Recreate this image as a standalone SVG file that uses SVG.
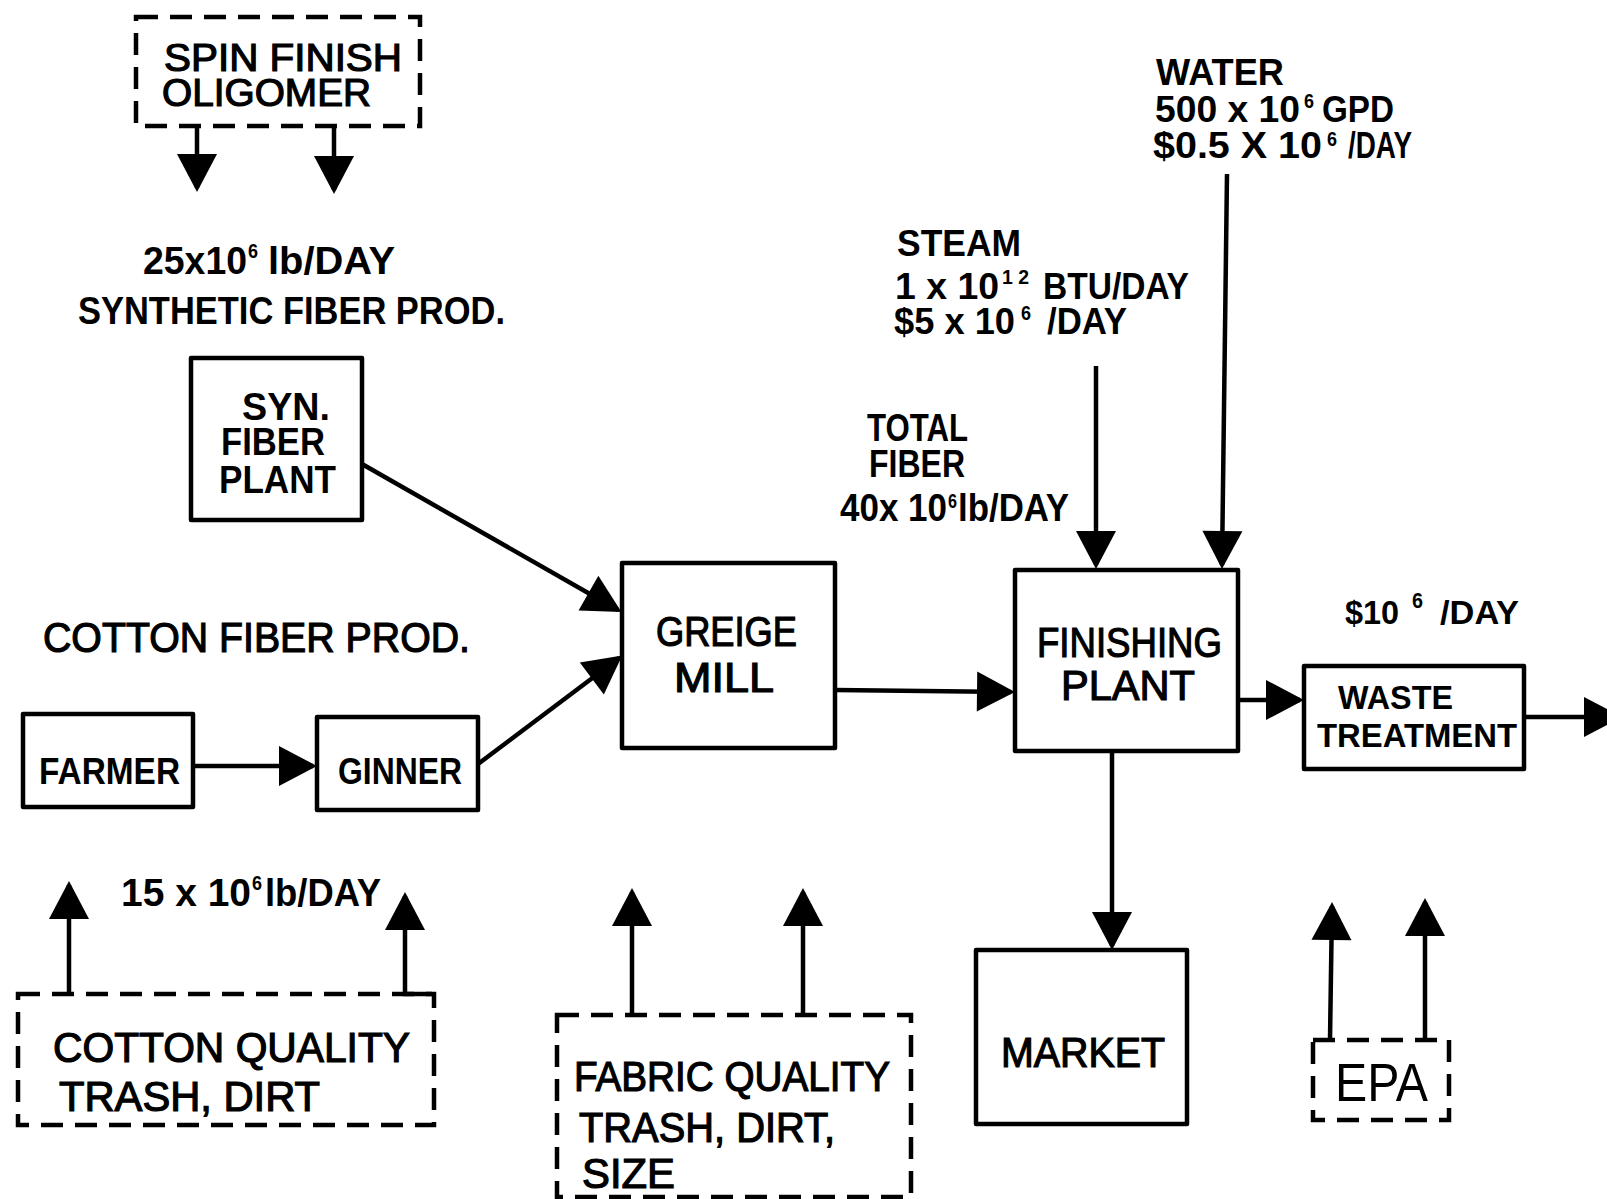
<svg xmlns="http://www.w3.org/2000/svg" width="1607" height="1199" viewBox="0 0 1607 1199">
<style>
.box{fill:none;stroke:#000;stroke-width:4.5;stroke-linejoin:round}
.dbox{fill:none;stroke:#000;stroke-width:4.5;stroke-dasharray:22 12}
.c{fill:none;stroke:#000;stroke-width:4.5;marker-end:url(#ah)}
text{font-family:"Liberation Sans",Arial,sans-serif;font-weight:bold;fill:#000}
.r{font-weight:normal;stroke:#000;stroke-width:1.2}
.e{font-weight:normal}
.s{font-size:20px}
</style>
<defs>
<marker id="ah" markerUnits="userSpaceOnUse" markerWidth="42" markerHeight="42" refX="34" refY="20" orient="auto" overflow="visible">
<path d="M0,0 L38,20 L0,40 Z" fill="#000"/>
</marker>
</defs>
<rect width="1607" height="1199" fill="#fff"/>
<g id="connectors">
<path class="c" d="M197,126 V188"/>
<path class="c" d="M334,126 V190"/>
<path class="c" d="M362,464 L618,610"/>
<path class="c" d="M193,766 H313"/>
<path class="c" d="M478,764 L619,658"/>
<path class="c" d="M835,690 L1011,692"/>
<path class="c" d="M1096,366 V565"/>
<path class="c" d="M1227,174 L1222,565"/>
<path class="c" d="M1238,700 H1300"/>
<path class="c" d="M1524,717 H1618"/>
<path class="c" d="M1112,751 V946"/>
<path class="c" d="M69,994 V885"/>
<path class="c" d="M432,994 H405 V896"/>
<path class="c" d="M632,1015 V892"/>
<path class="c" d="M803,1015 V892"/>
<path class="c" d="M1330,1040 L1332,906"/>
<path class="c" d="M1425,1040 V902"/>
</g>
<g id="spin-finish">
<rect class="dbox" x="136" y="17" width="284" height="109"/>
<text x="164" y="71" font-size="38" class="r" textLength="238" lengthAdjust="spacingAndGlyphs">SPIN FINISH</text>
<text x="162" y="106" font-size="38" class="r" textLength="209" lengthAdjust="spacingAndGlyphs">OLIGOMER</text>
</g>
<g id="syn-label">
<text x="143" y="274" font-size="38" textLength="104" lengthAdjust="spacingAndGlyphs">25x10</text>
<text x="248" y="258" class="s" textLength="10" lengthAdjust="spacingAndGlyphs">6</text>
<text x="268" y="274" font-size="38" textLength="127" lengthAdjust="spacingAndGlyphs">lb/DAY</text>
<text x="78" y="324" font-size="38" textLength="427" lengthAdjust="spacingAndGlyphs">SYNTHETIC FIBER PROD.</text>
</g>
<g id="syn-fiber-plant">
<rect class="box" x="191" y="358" width="171" height="162"/>
<text x="242" y="420" font-size="38" textLength="88" lengthAdjust="spacingAndGlyphs">SYN.</text>
<text x="221" y="455" font-size="38" textLength="104" lengthAdjust="spacingAndGlyphs">FIBER</text>
<text x="219" y="493" font-size="38" textLength="117" lengthAdjust="spacingAndGlyphs">PLANT</text>
</g>
<g id="cotton-label">
<text x="43" y="652" font-size="42" class="r" textLength="427" lengthAdjust="spacingAndGlyphs">COTTON FIBER PROD.</text>
</g>
<g id="farmer">
<rect class="box" x="23" y="714" width="170" height="93"/>
<text x="39" y="784" font-size="36" textLength="141" lengthAdjust="spacingAndGlyphs">FARMER</text>
</g>
<g id="ginner">
<rect class="box" x="317" y="717" width="161" height="93"/>
<text x="338" y="784" font-size="36" textLength="124" lengthAdjust="spacingAndGlyphs">GINNER</text>
</g>
<g id="greige-mill">
<rect class="box" x="622" y="563" width="213" height="185"/>
<text x="656" y="646" font-size="42" class="r" textLength="141" lengthAdjust="spacingAndGlyphs">GREIGE</text>
<text x="674" y="692" font-size="42" class="r" textLength="100" lengthAdjust="spacingAndGlyphs">MILL</text>
</g>
<g id="finishing-plant">
<rect class="box" x="1015" y="570" width="223" height="181"/>
<text x="1037" y="657" font-size="42" class="r" textLength="185" lengthAdjust="spacingAndGlyphs">FINISHING</text>
<text x="1061" y="700" font-size="42" class="r" textLength="134" lengthAdjust="spacingAndGlyphs">PLANT</text>
</g>
<g id="steam-label">
<text x="897" y="256" font-size="36" textLength="124" lengthAdjust="spacingAndGlyphs">STEAM</text>
<text x="895" y="299" font-size="36" textLength="104" lengthAdjust="spacingAndGlyphs">1 x 10</text>
<text x="1002" y="284" class="s" textLength="27" lengthAdjust="spacingAndGlyphs">1 2</text>
<text x="1043" y="299" font-size="36" textLength="146" lengthAdjust="spacingAndGlyphs">BTU/DAY</text>
<text x="894" y="334" font-size="36" textLength="121" lengthAdjust="spacingAndGlyphs">$5 x 10</text>
<text x="1021" y="320" class="s" textLength="10" lengthAdjust="spacingAndGlyphs">6</text>
<text x="1047" y="334" font-size="36" textLength="80" lengthAdjust="spacingAndGlyphs">/DAY</text>
</g>
<g id="water-label">
<text x="1156" y="85" font-size="36" textLength="128" lengthAdjust="spacingAndGlyphs">WATER</text>
<text x="1155" y="122" font-size="36" textLength="145" lengthAdjust="spacingAndGlyphs">500 x 10</text>
<text x="1304" y="108" class="s" textLength="10" lengthAdjust="spacingAndGlyphs">6</text>
<text x="1322" y="122" font-size="36" textLength="72" lengthAdjust="spacingAndGlyphs">GPD</text>
<text x="1153" y="158" font-size="36" textLength="169" lengthAdjust="spacingAndGlyphs">$0.5 X 10</text>
<text x="1327" y="146" class="s" textLength="10" lengthAdjust="spacingAndGlyphs">6</text>
<text x="1348" y="158" font-size="36" textLength="64" lengthAdjust="spacingAndGlyphs">/DAY</text>
</g>
<g id="total-fiber-label">
<text x="867" y="441" font-size="38" textLength="101" lengthAdjust="spacingAndGlyphs">TOTAL</text>
<text x="869" y="477" font-size="38" textLength="96" lengthAdjust="spacingAndGlyphs">FIBER</text>
<text x="840" y="521" font-size="38" textLength="107" lengthAdjust="spacingAndGlyphs">40x 10</text>
<text x="948" y="508" class="s" textLength="9" lengthAdjust="spacingAndGlyphs">6</text>
<text x="958" y="521" font-size="38" textLength="111" lengthAdjust="spacingAndGlyphs">lb/DAY</text>
</g>
<g id="waste-cost-label">
<text x="1345" y="624" font-size="34" textLength="54" lengthAdjust="spacingAndGlyphs">$10</text>
<text x="1412" y="608" font-size="22" textLength="11" lengthAdjust="spacingAndGlyphs">6</text>
<text x="1440" y="624" font-size="34" textLength="79" lengthAdjust="spacingAndGlyphs">/DAY</text>
</g>
<g id="waste-treatment">
<rect class="box" x="1304" y="666" width="220" height="103"/>
<text x="1338" y="709" font-size="34" textLength="115" lengthAdjust="spacingAndGlyphs">WASTE</text>
<text x="1317" y="747" font-size="34" textLength="200" lengthAdjust="spacingAndGlyphs">TREATMENT</text>
</g>
<g id="market">
<rect class="box" x="976" y="950" width="211" height="174"/>
<text x="1001" y="1067" font-size="42" class="r" textLength="164" lengthAdjust="spacingAndGlyphs">MARKET</text>
</g>
<g id="epa">
<rect class="dbox" x="1313" y="1040" width="136" height="80"/>
<text x="1335" y="1101" font-size="54" class="e" textLength="93" lengthAdjust="spacingAndGlyphs">EPA</text>
</g>
<g id="cotton-rate-label">
<text x="121" y="906" font-size="38" textLength="130" lengthAdjust="spacingAndGlyphs">15 x 10</text>
<text x="252" y="890" class="s" textLength="10" lengthAdjust="spacingAndGlyphs">6</text>
<text x="265" y="906" font-size="38" textLength="116" lengthAdjust="spacingAndGlyphs">lb/DAY</text>
</g>
<g id="cotton-quality">
<rect class="dbox" x="18" y="994" width="416" height="131"/>
<text x="53" y="1062" font-size="42" class="r" textLength="357" lengthAdjust="spacingAndGlyphs">COTTON QUALITY</text>
<text x="59" y="1111" font-size="42" class="r" textLength="261" lengthAdjust="spacingAndGlyphs">TRASH, DIRT</text>
</g>
<g id="fabric-quality">
<rect class="dbox" x="557" y="1015" width="354" height="182"/>
<text x="574" y="1091" font-size="42" class="r" textLength="316" lengthAdjust="spacingAndGlyphs">FABRIC QUALITY</text>
<text x="579" y="1142" font-size="42" class="r" textLength="256" lengthAdjust="spacingAndGlyphs">TRASH, DIRT,</text>
<text x="582" y="1188" font-size="42" class="r" textLength="93" lengthAdjust="spacingAndGlyphs">SIZE</text>
</g>
</svg>
